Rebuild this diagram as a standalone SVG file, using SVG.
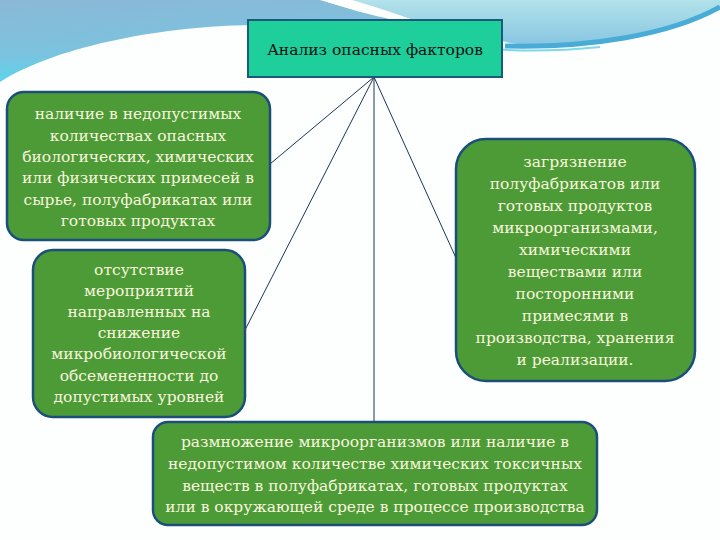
<svg xmlns="http://www.w3.org/2000/svg" width="720" height="540" viewBox="0 0 720 540">
<defs>
<linearGradient id="gl" x1="0" y1="0" x2="0.3" y2="1">
<stop offset="0" stop-color="#8ab8d6"/>
<stop offset="0.6" stop-color="#7cc2de"/>
<stop offset="1" stop-color="#56d8ef"/>
</linearGradient>
<linearGradient id="gr" x1="0" y1="0" x2="0" y2="1">
<stop offset="0" stop-color="#b2e2ea"/>
<stop offset="1" stop-color="#88c6e2"/>
</linearGradient>
<style>
.node rect.g{fill:#4d9b37;stroke:#1b4f7a;stroke-width:2.5}
.node text{font-family:"DejaVu Serif","Liberation Serif",serif;font-size:15.5px;fill:#f8f6dc;text-anchor:middle}
.title text{font-family:"DejaVu Serif","Liberation Serif",serif;font-size:15.5px;fill:#111;text-anchor:middle}
#connectors line{stroke:#1e3556;stroke-width:1}
</style>
</defs>
<rect width="720" height="540" fill="#fdfefe"/>
<g id="background">
<path d="M0,0 H322 C345,8 370,15 395,20 L500,21 L500,40 L250,25 C170,26 60,44 0,82 Z" fill="url(#gl)"/>
<path d="M350,0 H720 V8 C680,30 600,45 535,45 C505,45 490,38 480,30 L490,21 L410,19 C390,12 370,6 350,0 Z" fill="url(#gr)"/>
<path d="M320,0 H352 C372,6 392,12 412,19.5 L398,21 C372,14 346,8 320,0 Z" fill="#fdfefe"/>
<path d="M505,46 C590,48 670,35 720,7" fill="none" stroke="#48acd6" stroke-width="5"/>
<path d="M480,48 C520,52 560,51 600,47" fill="none" stroke="#7fd8ea" stroke-width="2"/>
</g>
<g id="connectors">
<line x1="374" y1="77" x2="270" y2="164"/>
<line x1="374" y1="77" x2="245" y2="330"/>
<line x1="374" y1="77" x2="374" y2="422"/>
<line x1="374" y1="77" x2="456" y2="258"/>
</g>
<g id="title" class="title">
<rect x="248" y="20" width="254" height="57" fill="#1ecf9b" stroke="#1a5a7a" stroke-width="2"/>
<text x="375" y="55">Анализ опасных факторов</text>
</g>
<g id="node1" class="node">
<rect class="g" x="7" y="92" width="263" height="148" rx="17"/>
<text x="138" y="119">наличие в недопустимых</text>
<text x="138" y="140.5">количествах опасных</text>
<text x="138" y="162">биологических, химических</text>
<text x="138" y="183">или физических примесей в</text>
<text x="138" y="204.5">сырье, полуфабрикатах или</text>
<text x="138" y="226">готовых продуктах</text>
</g>
<g id="node2" class="node">
<rect class="g" x="33" y="250" width="212" height="167" rx="20"/>
<text x="139" y="274.5">отсутствие</text>
<text x="139" y="295.7">мероприятий</text>
<text x="139" y="316.9">направленных на</text>
<text x="139" y="338.1">снижение</text>
<text x="139" y="359.3">микробиологической</text>
<text x="139" y="380.5">обсемененности до</text>
<text x="139" y="401.7">допустимых уровней</text>
</g>
<g id="node3" class="node">
<rect class="g" x="456" y="139" width="239" height="242" rx="30"/>
<text x="575" y="166.5">загрязнение</text>
<text x="575" y="188.5">полуфабрикатов или</text>
<text x="575" y="210.5">готовых продуктов</text>
<text x="575" y="232.5">микроорганизмами,</text>
<text x="575" y="254.5">химическими</text>
<text x="575" y="276.5">веществами или</text>
<text x="575" y="298.5">посторонними</text>
<text x="575" y="320.5">примесями в</text>
<text x="575" y="342.5">производства, хранения</text>
<text x="575" y="364.5">и реализации.</text>
</g>
<g id="node4" class="node">
<rect class="g" x="153" y="422" width="444" height="103" rx="15"/>
<text x="375" y="447">размножение микроорганизмов или наличие в</text>
<text x="375" y="469">недопустимом количестве химических токсичных</text>
<text x="375" y="491">веществ в полуфабрикатах, готовых продуктах</text>
<text x="375" y="512">или в окружающей среде в процессе производства</text>
</g>
</svg>
